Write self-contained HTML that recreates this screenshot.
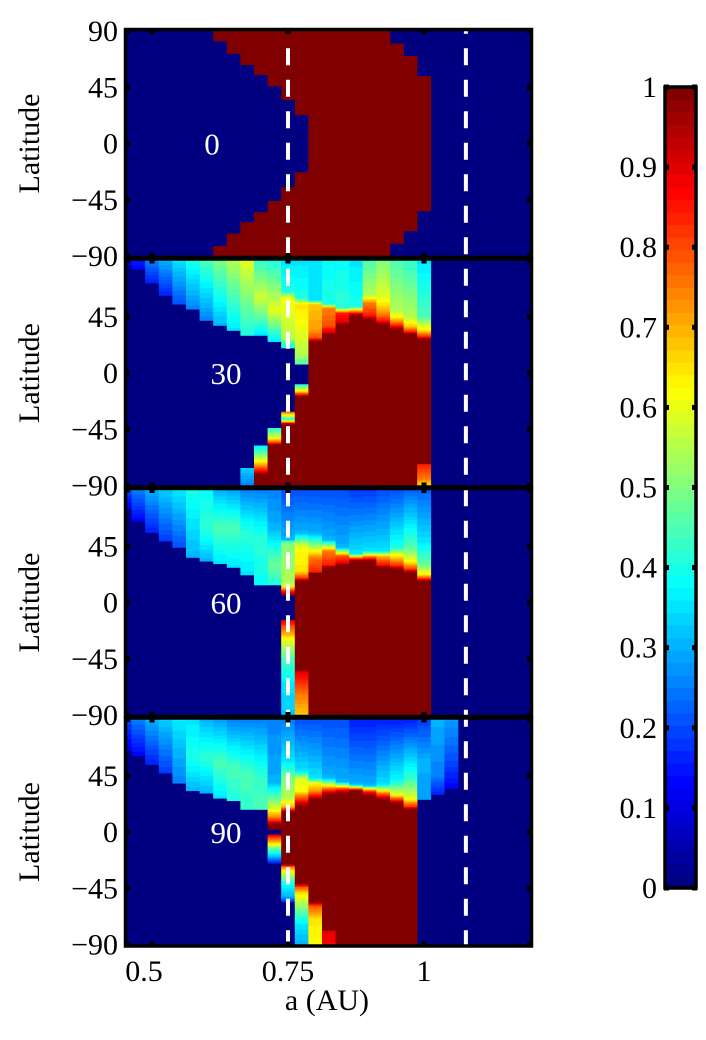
<!DOCTYPE html>
<html><head><meta charset="utf-8"><style>
html,body{margin:0;padding:0;background:#fff;}
svg{display:block;}
text{font-family:"Liberation Serif",serif;}
</style></head><body>
<svg id="fig" width="706" height="1040" viewBox="0 0 706 1040">
<g id="maps"></g>
<g id="overlay"></g>
</svg>
<script>
// ---- data ----
const aCenters = [0.45,0.475,0.5,0.525,0.55,0.575,0.6,0.625,0.65,0.675,0.7,0.725,0.75,0.775,0.8,0.825,0.85,0.875,0.9,0.925,0.95,0.975,1.0,1.025,1.05,1.075,1.1,1.125,1.15,1.175,1.2];
const panelLabels = ["0","30","60","90"];
const latTicks = [90,45,0,-45,-90];
const aTicks = [0.5,0.75,1];
const aTickLabels = ["0.5","0.75","1"];
const dashedA = [0.75,1.077];
const cbTicks = [0,0.1,0.2,0.3,0.4,0.5,0.6,0.7,0.8,0.9,1];
const cbTickLabels = ["0","0.1","0.2","0.3","0.4","0.5","0.6","0.7","0.8","0.9","1"];
// column profiles: flat [lat,value,...] from top (90) to bottom; beyond last stop = 0
const panel0 = [[],[],[],[],[],[],[],
 [90,1,82,1,82,0,-82,0,-82,1,-90,1],
 [90,1,72,1,72,0,-72,0,-72,1,-90,1],
 [90,1,63,1,63,0,-63,0,-63,1,-90,1],
 [90,1,55,1,55,0,-55,0,-55,1,-90,1],
 [90,1,46,1,46,0,-46,0,-46,1,-90,1],
 [90,1,35,1,35,0,-35,0,-35,1,-90,1],
 [90,1,23,1,23,0,-23,0,-23,1,-90,1],
 [90,1,-90,1],[90,1,-90,1],[90,1,-90,1],[90,1,-90,1],[90,1,-90,1],[90,1,-90,1],
 [90,0,80,0,80,1,-80,1,-80,0],
 [90,0,70,0,70,1,-70,1,-70,0],
 [90,0,54,0,54,1,-54,1,-54,0],
 [],[],[],[],[],[],[],[]];
const panel1 = [
 [90,.12,86,.1,86,0],
 [90,.15,83,.12,83,0],
 [90,.25,72,.15,72,0],
 [90,.3,62,.15,62,0],
 [90,.35,55,.2,55,0],
 [90,.4,51,.25,51,0],
 [90,.45,42,.25,42,0],
 [90,.5,38,.3,38,0],
 [90,.55,34,.35,34,0],
 [90,.6,30,.4,30,0,-76,0,-76,.33,-90,.25],
 [90,.42,60,.58,30,.35,30,0,-58,0,-58,.35,-68,.55,-78,.85,-81,1,-90,1],
 [90,.4,50,.6,25,.35,25,0,-44,0,-44,.4,-52,.6,-57,.9,-57,1,-90,1],
 [90,.35,65,.4,60,.62,28,.55,22,.4,20,.4,20,0,-31,0,-31,.8,-34,.6,-37,.4,-39,.7,-41,1,-90,1],
 [90,.35,60,.4,55,.65,40,.62,15,.55,7,.45,7,0,-9,0,-9,.4,-14,.6,-18,.9,-18,1,-90,1],
 [90,.35,58,.35,55,.68,35,.72,28,.8,25,1,-90,1],
 [90,.38,55,.4,52,.75,38,.8,33,.9,31,1,-90,1],
 [90,.38,52,.42,48,.85,41,.9,39,1,-90,1],
 [90,.35,53,.4,50,.7,46,1,-90,1],
 [90,.45,62,.55,56,.75,46,.85,43,1,-90,1],
 [90,.5,60,.6,50,.7,42,.85,39,1,-90,1],
 [90,.45,50,.55,44,.65,38,.85,35,1,-90,1],
 [90,.42,45,.55,38,.65,33,.85,31,1,-90,1],
 [90,.35,45,.45,34,.65,29,.85,27,1,-73,1,-73,.85,-85,.75,-90,.65],
 [],[],[],[],[],[],[],[]];
const panel2 = [
 [90,.2,75,.1,75,0],
 [90,.25,65,.12,65,0],
 [90,.3,56,.15,56,0],
 [90,.33,49,.18,49,0],
 [90,.36,44,.2,44,0],
 [90,.4,36,.3,36,0],
 [90,.38,60,.42,33,.3,33,0],
 [90,.3,60,.45,31,.35,31,0],
 [90,.28,60,.45,28,.35,28,0],
 [90,.25,55,.42,22,.35,22,0],
 [90,.25,50,.42,14,.38,14,0],
 [90,.25,60,.3,30,.48,14,.4,14,0],
 [90,.2,50,.3,48,.5,14,.55,10,.8,6,1,6,0,-14,0,-14,.9,-22,.75,-31,.6,-45,.45,-66,.35,-90,.32],
 [90,.2,56,.3,44,.62,25,.65,20,.8,17,1,-54,1,-56,.9,-75,.75,-90,.68],
 [90,.2,55,.3,41,.62,36,.75,24,.85,24,1,-90,1],
 [90,.2,50,.3,41,.75,30,.85,28,1,-90,1],
 [90,.2,44,.3,37,.8,31,.9,31,1,-90,1],
 [90,.18,39,.35,35,.85,33,1,-90,1],
 [90,.18,41,.35,36,.8,33,1,-90,1],
 [90,.2,41,.35,37,.7,29,.9,29,1,-90,1],
 [90,.2,44,.4,38,.62,29,.85,27,1,-90,1],
 [90,.22,45,.45,33,.62,26,.85,24,1,-90,1],
 [90,.22,49,.35,30,.48,22,.65,19,.85,17,1,-90,1],
 [],[],[],[],[],[],[],[]];
const panel3 = [
 [90,.2,65,.1,65,0],
 [90,.25,61,.12,61,0],
 [90,.3,54,.15,54,0],
 [90,.33,47,.18,47,0],
 [90,.36,39,.25,39,0],
 [90,.35,60,.4,33,.3,33,0],
 [90,.3,60,.42,31,.3,31,0],
 [90,.28,55,.45,27,.35,27,0],
 [90,.25,50,.45,25,.4,25,0],
 [90,.25,45,.45,18,.42,18,0],
 [90,.25,45,.42,18,.45,18,0],
 [90,.25,40,.3,25,.5,18,.6,10,.8,6,1,2,1,2,0,-2,0,-2,.9,-8,.7,-14,.45,-20,.3,-25,.15,-25,0],
 [90,.25,57,.35,43,.5,27,.55,20,.7,16,1,-26,1,-28,.75,-32,.6,-42,.38,-52,.3,-56,.15,-56,0],
 [90,.2,49,.35,42,.6,33,.62,27,.8,20,1,-41,1,-44,.8,-49,.65,-61,.5,-75,.35,-90,.3],
 [90,.2,43,.35,39,.62,32,.75,26,1,-56,1,-59,.8,-70,.65,-90,.62],
 [90,.2,43,.3,35,.75,30,1,-79,1,-79,.9,-90,.88],
 [90,.2,40,.3,34,.85,31,1,-90,1],
 [90,.15,38,.3,33,1,-90,1],
 [90,.15,37,.3,33,.8,29,1,-90,1],
 [90,.15,38,.35,31,.75,26,1,-90,1],
 [90,.15,41,.38,30,.6,23,1,-90,1],
 [90,.15,44,.42,27,.6,20,.85,18,1,-90,1],
 [90,.18,57,.3,26,.28,26,0],
 [90,.3,45,.25,30,.15,30,0],
 [90,.28,57,.2,35,.12,35,0],
 [],[],[],[],[],[]];
const panels = [panel0,panel1,panel2,panel3];

// ---- scales ----
const X0=127, X1=530;
const xScale = a => 152 + (a-0.5)*544;
const panelTop = i => 31 + 229.5*i;
const latY = (i,lat) => panelTop(i) + (90-lat)*1.25;
const colW = 0.025*544;
function jet(v){
  v=Math.max(0,Math.min(1,v));
  v=Math.round(v*63)/63;
  const c=t=>Math.round(255*Math.max(0,Math.min(1,1.5-Math.abs(4*v-t))));
  return `rgb(${c(3)},${c(2)},${c(1)})`;
}
function valueAt(stops,lat){
  for(let i=0;i+3<stops.length;i+=2){
    const l0=stops[i],v0=stops[i+1],l1=stops[i+2],v1=stops[i+3];
    if(l0===l1) continue;
    if(lat<=l0 && lat>=l1) return v0+(v1-v0)*(l0-lat)/(l0-l1);
  }
  return 0;
}
const NS='http://www.w3.org/2000/svg';
function mk(tag,attrs,parent){const e=document.createElementNS(NS,tag);for(const k in attrs)e.setAttribute(k,attrs[k]);parent.appendChild(e);return e;}
const maps=document.getElementById('maps');
const ov=document.getElementById('overlay');
const FS=30;

const defs=mk('defs',{},maps);
panels.forEach((cols,i)=>{
  const cp=mk('clipPath',{id:'clip'+i},defs);
  mk('rect',{x:X0,y:panelTop(i),width:X1-X0,height:225},cp);
  const g=mk('g',{'clip-path':'url(#clip'+i+')'},maps);
  
  
  mk('rect',{x:X0,y:panelTop(i),width:X1-X0,height:225,fill:jet(0)},g);
  cols.forEach((stops,k)=>{
    if(!stops.length) return;
    const x=xScale(aCenters[k])-colW/2;
    let runStart=90,runCol=null;
    const flush=(endLat)=>{
      if(runCol && runCol!==jet(0)){
        const r=mk('rect',{x:x.toFixed(2),y:latY(i,runStart).toFixed(2),width:(colW+0.3).toFixed(2),height:((runStart-endLat)*1.25+0.3).toFixed(2),fill:runCol},g);
        
        
      }
    };
    for(let lat=90;lat>-90;lat-=1){
      const c=jet(valueAt(stops,lat-0.5));
      if(c!==runCol){flush(lat);runStart=lat;runCol=c;}
    }
    flush(-90);
  });
});

// dashed lines
dashedA.forEach(a=>{
  const l=mk('line',{x1:xScale(a),x2:xScale(a),y1:16.8,y2:945,stroke:'#fff','stroke-width':4,'stroke-dasharray':'17 14.5'},ov);
  
  
});
mk('rect',{x:120,y:0,width:420,height:29,fill:'#fff'},ov);

// panel frames, ticks, labels
panels.forEach((c,i)=>{
  const t=panelTop(i);
  const f=mk('rect',{x:X0-1.5,y:t-1.5,width:X1-X0+3,height:228,fill:'none',stroke:'#000','stroke-width':3.5},ov);
  
  
  aTicks.forEach(a=>{
    mk('rect',{x:xScale(a)-2.5,y:t-2,width:5,height:5,fill:'#000'},ov);
    mk('rect',{x:xScale(a)-2.5,y:t+222,width:5,height:5,fill:'#000'},ov);
  });
  latTicks.forEach(l=>{
    mk('rect',{x:X0-2,y:latY(i,l)-2.5,width:5,height:5,fill:'#000'},ov);
    mk('rect',{x:X1-3,y:latY(i,l)-2.5,width:5,height:5,fill:'#000'},ov);
    if(l===90 && i>0) return;
    const tx=mk('text',{x:118,y:latY(i,l)+10,'font-size':FS,'text-anchor':'end',fill:'#000'},ov);
    tx.textContent=(l<0?'\u2212'+(-l):String(l));
    
    
  });
  const yc=t+112.5;
  const yl=mk('text',{x:0,y:0,'font-size':FS,'text-anchor':'middle',fill:'#000',transform:`translate(39,${yc}) rotate(-90)`},ov);
  yl.textContent='Latitude';
  
  
  const pl=mk('text',{x:i===0?212:226,y:yc+11,'font-size':31,'text-anchor':'middle',fill:'#fff'},ov);
  pl.textContent=panelLabels[i];
  
  
});
aTicks.forEach((a,j)=>{
  const tx=mk('text',{x:xScale(a)-(j===0?8:0),y:981,'font-size':FS,'text-anchor':'middle',fill:'#000'},ov);
  tx.textContent=aTickLabels[j];
  
  
});
const xl=mk('text',{x:327,y:1010,'font-size':FS,'text-anchor':'middle',fill:'#000'},ov);
xl.textContent='a (AU)';



// colorbar
const cb=mk('g',{},ov);


const cbTop=87, cbBot=888, cbX=665, cbW=31;
const cbY=v=>cbBot-(cbBot-cbTop)*v;
for(let s=0;s<64;s++){
  const v0=s/64,v1=(s+1)/64;
  mk('rect',{x:cbX,y:cbY(v1),width:cbW,height:cbY(v0)-cbY(v1)+0.5,fill:jet((s+0.5)/64)},cb);
}
mk('rect',{x:cbX,y:cbTop,width:cbW,height:cbBot-cbTop,fill:'none',stroke:'#000','stroke-width':3.5},cb);
cbTicks.forEach((v,j)=>{
  mk('rect',{x:cbX-1,y:cbY(v)-2.5,width:5,height:5,fill:'#000'},cb);
  mk('rect',{x:cbX+cbW-4,y:cbY(v)-2.5,width:5,height:5,fill:'#000'},cb);
  const tx=mk('text',{x:657,y:cbY(v)+10,'font-size':FS,'text-anchor':'end',fill:'#000'},cb);
  tx.textContent=cbTickLabels[j];
  
  
});
</script>
</body></html>
